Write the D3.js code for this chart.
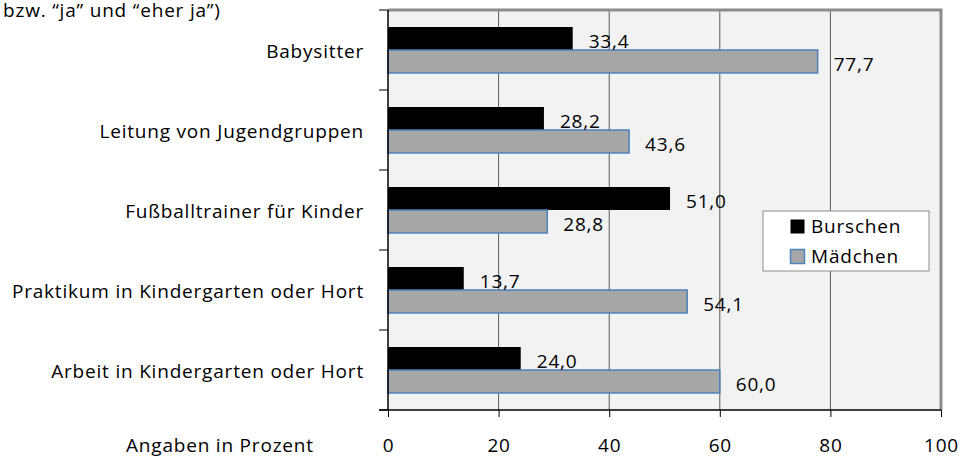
<!DOCTYPE html>
<html>
<head>
<meta charset="utf-8">
<script src="https://cdn.jsdelivr.net/npm/d3@7"></script>
<style>
  body { margin: 0; background: #fff; }
  svg { display: block; font-family: "Open Sans", sans-serif; letter-spacing: 0.8px; }
</style>
</head>
<body>
<svg id="chart"></svg>
<script>
const categories = ["Babysitter", "Leitung von Jugendgruppen", "Fußballtrainer für Kinder",
                    "Praktikum in Kindergarten oder Hort", "Arbeit in Kindergarten oder Hort"];
const burschen = [33.4, 28.2, 51.0, 13.7, 24.0];
const maedchen = [77.7, 43.6, 28.8, 54.1, 60.0];
const seriesNames = ["Burschen", "Mädchen"];
const xTicks = [0, 20, 40, 60, 80, 100];

const width = 965, height = 458;
const plotLeft = 388, plotRight = 941, plotTop = 10, plotBottom = 410;
const fs = 19;

const svg = d3.select("#chart").attr("width", width).attr("height", height);

const x = d3.scaleLinear().domain([0, 100]).range([plotLeft, plotRight]);
const y = d3.scaleBand().domain(categories).range([plotTop, plotBottom]).paddingInner(0.425).paddingOuter(0.2125);
const sub = d3.scaleBand().domain(seriesNames).range([0, y.bandwidth()]);

const fmt = v => d3.format(".1f")(v).replace(".", ",");

// heading fragment at the top
svg.append("text").attr("x", 3).attr("y", 17)
   .attr("font-size", fs).attr("fill", "#000")
   .text("bzw. \u201Cja\u201D und \u201Ceher ja\u201D)");

// plot background
svg.append("rect").attr("x", plotLeft).attr("y", plotTop)
   .attr("width", plotRight - plotLeft).attr("height", plotBottom - plotTop)
   .attr("fill", "#f2f2f2");

// gridlines
svg.append("g").selectAll("line").data(xTicks.slice(1, -1)).join("line")
   .attr("x1", d => x(d)).attr("x2", d => x(d))
   .attr("y1", plotTop).attr("y2", plotBottom)
   .attr("stroke", "#5a5a5a").attr("stroke-width", 1);

// border top and right
svg.append("path")
   .attr("d", `M${plotLeft},${plotTop}H${plotRight}V${plotBottom}`)
   .attr("fill", "none").attr("stroke", "#8c8c8c").attr("stroke-width", 3);

const rows = categories.map((c, i) => ({ c, vals: [burschen[i], maedchen[i]] }));

const g = svg.append("g").selectAll("g").data(rows).join("g")
   .attr("transform", d => `translate(0,${y(d.c)})`);

g.append("rect")
   .attr("x", x(0)).attr("y", sub("Burschen"))
   .attr("width", d => x(d.vals[0]) - x(0)).attr("height", sub.bandwidth())
   .attr("fill", "#000");

g.append("rect")
   .attr("x", x(0)).attr("y", sub("Mädchen"))
   .attr("width", d => x(d.vals[1]) - x(0)).attr("height", sub.bandwidth())
   .attr("fill", "#a6a6a6").attr("stroke", "#4f81bd").attr("stroke-width", 1.5);

g.append("text")
   .attr("x", d => x(d.vals[0]) + 16).attr("y", sub("Burschen") + sub.bandwidth() / 2 + 3)
   .attr("dy", "0.35em").attr("font-size", fs)
   .text(d => fmt(d.vals[0]));

g.append("text")
   .attr("x", d => x(d.vals[1]) + 16).attr("y", sub("Mädchen") + sub.bandwidth() / 2 + 3)
   .attr("dy", "0.35em").attr("font-size", fs)
   .text(d => fmt(d.vals[1]));

// left axis
const yAxisTicks = d3.range(categories.length + 1).map(i => plotTop + i * (plotBottom - plotTop) / categories.length);
svg.append("g").selectAll("line").data(yAxisTicks).join("line")
   .attr("x1", plotLeft - 9).attr("x2", plotLeft).attr("y1", d => d).attr("y2", d => d)
   .attr("stroke", "#000").attr("stroke-width", 1);
svg.append("line").attr("x1", plotLeft).attr("x2", plotLeft).attr("y1", plotTop).attr("y2", plotBottom)
   .attr("stroke", "#000").attr("stroke-width", 1.5);

svg.append("g").selectAll("text").data(categories).join("text")
   .attr("x", 364).attr("y", d => y(d) + y.bandwidth() / 2 + 1)
   .attr("dy", "0.35em").attr("text-anchor", "end").attr("font-size", fs)
   .text(d => d);

// bottom axis
const xAxis = d3.axisBottom(x).tickValues(xTicks).tickSize(7).tickPadding(22).tickFormat(d3.format("d"));
const ax = svg.append("g").attr("transform", `translate(0,${plotBottom})`).call(xAxis);
ax.select(".domain").remove();
ax.selectAll(".tick line").attr("stroke", "#000");
ax.selectAll(".tick text").attr("font-size", fs).attr("font-family", "Open Sans, sans-serif").attr("fill", "#000");
svg.append("line").attr("x1", plotLeft - 9).attr("x2", plotRight).attr("y1", plotBottom).attr("y2", plotBottom)
   .attr("stroke", "#000").attr("stroke-width", 1.5);

svg.append("text").attr("x", 126).attr("y", 452)
   .attr("font-size", fs).text("Angaben in Prozent");

// legend
const lg = svg.append("g").attr("transform", "translate(763,211)");
lg.append("rect").attr("width", 166).attr("height", 60)
  .attr("fill", "#fff").attr("stroke", "#8c8c8c").attr("stroke-width", 1);
seriesNames.forEach((s, i) => {
  const base = 22 + i * 30;
  lg.append("rect").attr("x", 27.5).attr("y", base - 13.5).attr("width", 14).attr("height", 14)
    .attr("fill", i === 0 ? "#000" : "#a6a6a6")
    .attr("stroke", i === 0 ? "none" : "#4f81bd").attr("stroke-width", 1.5);
  lg.append("text").attr("x", 48).attr("y", base)
    .attr("font-size", fs).text(s);
});
</script>
</body>
</html>
